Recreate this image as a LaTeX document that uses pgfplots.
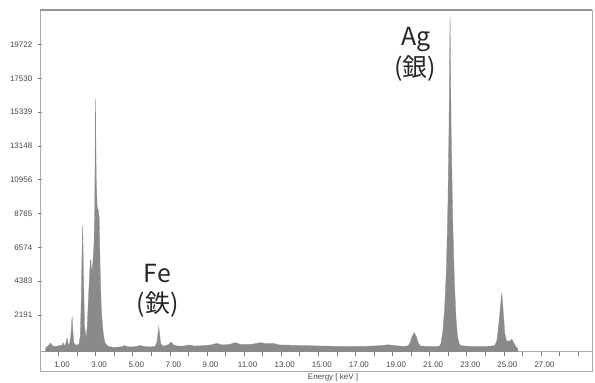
\documentclass[border=0pt]{standalone}
\usepackage{fontspec}
\setmainfont{Liberation Sans}
\newfontfamily\cjk{Noto Sans CJK JP}
\usepackage{pgfplots}
\pgfplotsset{compat=1.18}
\definecolor{specgray}{RGB}{138,138,138}
\definecolor{framegray}{RGB}{170,170,170}
\definecolor{topgray}{RGB}{150,150,150}
\definecolor{tickgray}{RGB}{120,120,120}
\definecolor{labgray}{RGB}{70,70,70}
\begin{document}
\begin{tikzpicture}
\path[use as bounding box] (0,0) rectangle (595bp,383bp);
\begin{axis}[
  name=a,
  at={(40bp,32bp)}, anchor=south west,
  width=552bp, height=341bp, scale only axis,
  xmin=0, xmax=29.75,
  ymin=-143, ymax=21960,
  axis line style={draw=framegray, line width=0.8pt},
  xtick={1,...,29},
  xticklabels={1.00,,3.00,,5.00,,7.00,,9.00,,11.00,,13.00,,15.00,,17.00,,19.00,,21.00,,23.00,,25.00,,27.00,,},
  ytick={2191,4383,6574,8765,10956,13148,15339,17530,19722},
  yticklabels={2191,4383,6574,8765,10956,13148,15339,17530,19722},
  xtick pos=bottom, ytick pos=left,
  x tick style={draw=tickgray, line width=0.6pt},
  y tick style={draw=tickgray, line width=0.6pt},
  xtick align=outside, ytick align=center,
  major tick length=4.5bp,
  tick label style={font=\fontsize{8}{8}\selectfont, text=labgray},
  xticklabel style={xshift=3.5bp, yshift=-3bp},
  yticklabel style={xshift=-2bp},
  clip mode=individual,
]
\addplot[draw=specgray, line width=0.3pt, fill=specgray] coordinates {
(0.30,-200) (0.30,0) (0.35,120) (0.45,200) (0.57,380) (0.68,180) (0.80,150) (0.95,180)
(1.05,200) (1.12,250) (1.20,220) (1.25,400) (1.30,200) (1.38,300) (1.46,700) (1.52,300)
(1.58,250) (1.65,700) (1.70,1500) (1.73,2100) (1.77,1200) (1.82,400) (1.90,250) (2.00,250)
(2.10,300) (2.17,800) (2.22,3000) (2.27,6500) (2.30,8000) (2.34,5000) (2.40,1500) (2.46,900)
(2.50,800) (2.55,1500) (2.62,3500) (2.68,5000) (2.72,5800) (2.77,5300) (2.81,5000) (2.86,5800)
(2.91,6800) (2.95,9000) (2.99,16200) (3.03,11000) (3.08,9200) (3.14,9000) (3.19,8500) (3.24,5200)
(3.30,2700) (3.36,1600) (3.42,900) (3.50,400) (3.58,250) (3.70,150) (3.90,100) (4.10,100)
(4.30,120) (4.45,150) (4.55,220) (4.65,150) (4.90,120) (5.20,150) (5.41,220) (5.60,150)
(5.90,120) (6.20,150) (6.30,400) (6.36,1000) (6.40,1430) (6.44,1000) (6.50,350) (6.60,180)
(6.80,200) (6.95,300) (7.07,430) (7.20,250) (7.40,180) (7.70,170) (8.05,250) (8.30,180)
(8.70,200) (9.20,250) (9.54,350) (9.80,250) (10.20,280) (10.53,400) (10.80,280) (11.30,280)
(11.60,330) (11.88,400) (12.20,330) (12.57,350) (12.90,250) (13.50,230) (14.50,200) (15.50,170)
(16.50,150) (17.50,160) (18.30,200) (18.77,260) (19.20,200) (19.60,150) (19.85,200) (19.95,400)
(20.05,800) (20.17,1050) (20.28,800) (20.38,400) (20.50,180) (21.00,150) (21.50,150) (21.60,300)
(21.70,1000) (21.80,2500) (21.90,5000) (21.98,9000) (22.04,14000) (22.10,21500) (22.16,14000) (22.24,8500)
(22.33,4500) (22.42,2000) (22.50,800) (22.60,300) (22.70,200) (23.20,150) (24.00,150) (24.50,200)
(24.62,500) (24.72,1500) (24.82,2800) (24.89,3630) (24.96,2500) (25.05,1000) (25.15,500) (25.30,500)
(25.43,620) (25.52,400) (25.65,150) (25.75,0) (25.75,-200)
} -- cycle;
\node[anchor=base, font=\cjk\fontsize{25}{25}\selectfont, text=black!85] at (axis cs:6.33,4265) {Fe};
\node[anchor=center, font=\cjk\fontsize{25}{25}\selectfont, text=black!85] at (axis cs:6.35,2840) {(鉄)};
\node[anchor=base, font=\cjk\fontsize{25}{25}\selectfont, text=black!85] at (axis cs:20.27,19690) {Ag};
\node[anchor=center, font=\cjk\fontsize{25}{25}\selectfont, text=black!85] at (axis cs:20.22,18200) {(銀)};
\end{axis}
\draw[topgray, line width=1.2pt] (a.north west) -- (a.north east);
\draw[framegray, line width=0.8pt] (a.south west) -- ([yshift=-20bp]a.south west) -- ([yshift=-20bp]a.south east) -- (a.south east);
\node[font=\fontsize{8}{8}\selectfont, text=labgray] at (333bp,6bp) {Energy [ keV ]};
\end{tikzpicture}
\end{document}
